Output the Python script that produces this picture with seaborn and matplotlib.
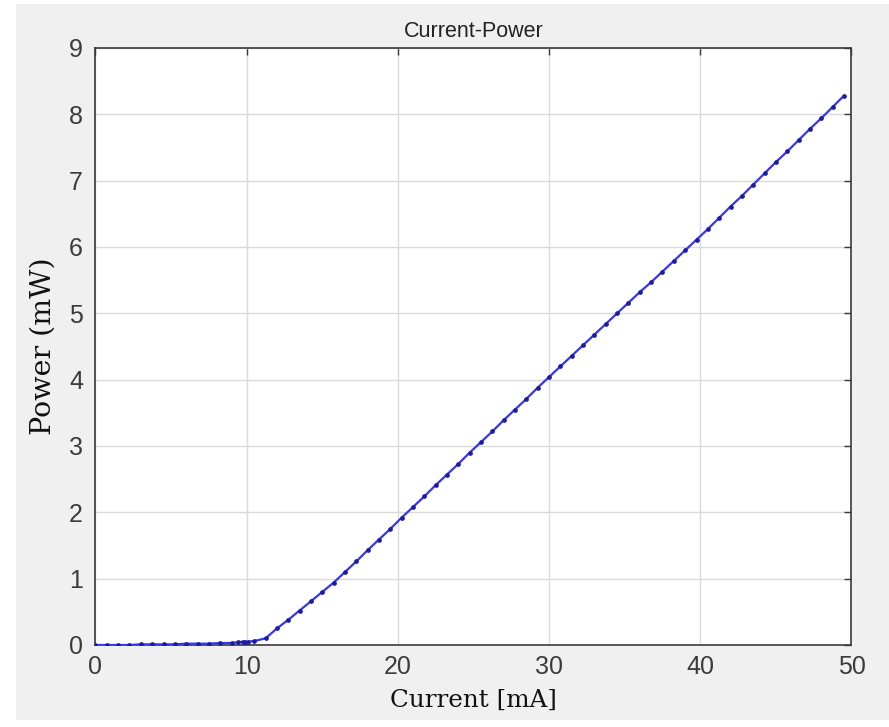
import numpy as np
import pandas as pd
import matplotlib
matplotlib.use("Agg")
import matplotlib.pyplot as plt
from matplotlib.patches import Rectangle
import seaborn as sns

current = [0, 0.75, 1.5, 2.25, 3, 3.75, 4.5, 5.25, 6, 6.75, 7.5, 8.25, 9, 9.4,
           9.75, 9.9, 10.1, 10.5,
           11.25, 12.0, 12.75, 13.5, 14.25, 15.0, 15.75, 16.5, 17.25, 18.0,
           18.75, 19.5, 20.25, 21.0, 21.75, 22.5, 23.25, 24.0, 24.75, 25.5,
           26.25, 27.0, 27.75, 28.5, 29.25, 30.0, 30.75, 31.5, 32.25, 33.0,
           33.75, 34.5, 35.25, 36.0, 36.75, 37.5, 38.25, 39.0, 39.75, 40.5,
           41.25, 42.0, 42.75, 43.5, 44.25, 45.0, 45.75, 46.5, 47.25, 48.0,
           48.75, 49.5]
power = [0, 0, 0, 0, 0.01, 0.01, 0.01, 0.01, 0.02, 0.02, 0.02, 0.03, 0.03, 0.04,
         0.05, 0.04, 0.05, 0.06,
         0.10, 0.25, 0.38, 0.52, 0.66, 0.80, 0.94, 1.10, 1.26, 1.43,
         1.59, 1.75, 1.92, 2.08, 2.24, 2.41, 2.57, 2.73, 2.90, 3.06,
         3.22, 3.39, 3.55, 3.71, 3.88, 4.04, 4.20, 4.36, 4.52, 4.68,
         4.84, 5.00, 5.16, 5.32, 5.47, 5.63, 5.79, 5.95, 6.11, 6.27,
         6.44, 6.61, 6.77, 6.94, 7.11, 7.28, 7.44, 7.61, 7.78, 7.94,
         8.11, 8.28]

x_ticks = [0, 10, 20, 30, 40, 50]
y_ticks = [0, 1, 2, 3, 4, 5, 6, 7, 8, 9]

df = pd.DataFrame({"Current": current, "Power": power})

sns.set_style("white")
plt.rcParams['font.family'] = ['Liberation Sans', 'DejaVu Sans']

fig = plt.figure(figsize=(8.89, 7.27), dpi=100)
fig.patch.set_facecolor("white")
# grey window area (screenshot has a thin white strip left/top/bottom)
fig.patches.append(Rectangle((0.018, 0.0096), 0.982, 0.985, transform=fig.transFigure,
                             facecolor="#f0f0f0", edgecolor="none", zorder=-10))

ax = fig.add_axes([0.1074, 0.1128, 0.8504, 0.8212])
ax.set_facecolor("white")

sns.lineplot(data=df, x="Current", y="Power", ax=ax, color="#3535f2", linewidth=1.6,
             marker="o", markersize=2.6, markerfacecolor="#1c1ca0",
             markeredgecolor="#1c1ca0", zorder=3)

ax.set_xlim(0, 50)
ax.set_ylim(0, 9)
ax.set_xticks(x_ticks)
ax.set_yticks(y_ticks)
ax.grid(True, color="#dadada", linewidth=1.0)
ax.set_axisbelow(True)

for s in ax.spines.values():
    s.set_color("#3a3a3a")
    s.set_linewidth(1.2)
ax.tick_params(direction="in", length=5, width=1, colors="#3a3a3a",
               top=True, right=True, labelsize=18, labelcolor="#3c3c3c")
ax.tick_params(axis="y", pad=9)
ax.tick_params(axis="x", pad=7)

ax.set_title("Current-Power", fontsize=15.5, color="#222222", pad=8)
ax.set_xlabel("Current [mA]", family="DejaVu Serif", fontsize=17.7, color="#111111", labelpad=7)
ax.set_ylabel("Power (mW)", family="DejaVu Serif", fontsize=20.5, color="#111111", labelpad=9)

fig.savefig("out.png", dpi=100, facecolor=fig.get_facecolor())
